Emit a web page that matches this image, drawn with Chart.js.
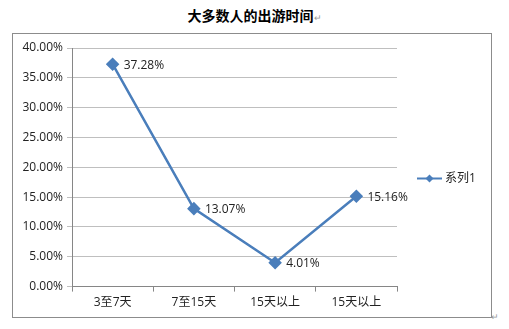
<!DOCTYPE html>
<html>
<head>
<meta charset="utf-8">
<script src="https://cdn.jsdelivr.net/npm/chart.js@4"></script>
<style>
  body { margin: 0; background: #fff; width: 509px; height: 329px; overflow: hidden; position: relative; }
  #title {
    position: absolute; left: 0; top: 5px; width: 509px; text-align: center;
    font: bold 14px "Noto Sans CJK SC", sans-serif; color: #000;
  }
  #title span { font-weight: normal; font-size: 9px; color: #999; }
  #box {
    position: absolute; left: 12px; top: 33px; width: 478px; height: 283px;
    border: 1px solid #8c8c8c;
  }
  #mark { position: absolute; left: 491px; top: 312px; font-size: 9px; color: #999; }
</style>
</head>
<body>
<div id="title">大多数人的出游时间<span>↵</span></div>
<div id="box"><canvas id="chart"></canvas></div>
<div id="mark">↵</div>
<script>
const categories = ['3至7天', '7至15天', '15天以上', '15天以上'];
const seriesName = '系列1';
const values = [37.28, 13.07, 4.01, 15.16];
const yTicks = [0, 5, 10, 15, 20, 25, 30, 35, 40];

const lineColor = '#4a7ebb';
const fontFamily = '"Open Sans", "Noto Sans CJK SC", sans-serif';

// value labels to the right of each point
const valueLabels = {
  id: 'valueLabels',
  afterDatasetsDraw(chart) {
    const ctx = chart.ctx;
    const meta = chart.getDatasetMeta(0);
    ctx.save();
    ctx.font = '12px ' + fontFamily;
    ctx.fillStyle = '#222';
    ctx.textAlign = 'left';
    ctx.textBaseline = 'middle';
    meta.data.forEach((pt, i) => {
      ctx.fillText(values[i].toFixed(2) + '%', pt.x + 11, pt.y + 1);
    });
    ctx.restore();
  }
};

// legend on the right: line + diamond + series name
const sideLegend = {
  id: 'sideLegend',
  afterDraw(chart) {
    const ctx = chart.ctx;
    const x = chart.chartArea.right + 20;
    const y = chart.height / 2 + 3;
    ctx.save();
    ctx.strokeStyle = lineColor;
    ctx.fillStyle = lineColor;
    ctx.lineWidth = 2;
    ctx.beginPath();
    ctx.moveTo(x, y);
    ctx.lineTo(x + 25, y);
    ctx.stroke();
    ctx.beginPath();
    ctx.moveTo(x + 12.5, y - 4);
    ctx.lineTo(x + 16.5, y);
    ctx.lineTo(x + 12.5, y + 4);
    ctx.lineTo(x + 8.5, y);
    ctx.closePath();
    ctx.fill();
    ctx.font = '12px ' + fontFamily;
    ctx.fillStyle = '#222';
    ctx.textAlign = 'left';
    ctx.textBaseline = 'middle';
    ctx.fillText(chart.data.datasets[0].label, x + 28, y);
    ctx.restore();
  }
};

const ctx = document.getElementById('chart').getContext('2d');
new Chart(ctx, {
  type: 'line',
  data: {
    labels: categories,
    datasets: [{
      label: seriesName,
      data: values,
      borderColor: lineColor,
      backgroundColor: lineColor,
      borderWidth: 2.5,
      tension: 0,
      pointStyle: 'rectRot',
      pointRadius: 5,
      pointHoverRadius: 5
    }]
  },
  options: {
    responsive: true,
    maintainAspectRatio: false,
    animation: false,
    layout: {
      padding: { top: 14, bottom: 3, left: 8, right: 94 }
    },
    scales: {
      x: {
        offset: true,
        grid: { offset: true, drawOnChartArea: false, drawTicks: true, tickLength: 5, color: '#868686' },
        border: { color: '#868686' },
        ticks: { color: '#222', font: { family: fontFamily, size: 12 }, padding: 4, maxRotation: 0 }
      },
      y: {
        min: 0,
        max: 40,
        afterBuildTicks: axis => { axis.ticks = yTicks.map(v => ({ value: v })); },
        grid: { color: '#bfbfbf', tickLength: 5 },
        border: { color: '#868686' },
        ticks: {
          color: '#222',
          font: { family: fontFamily, size: 12 },
          padding: 4,
          callback: v => v.toFixed(2) + '%'
        },
        afterFit: axis => { axis.width = 51; }
      }
    },
    plugins: {
      legend: { display: false },
      tooltip: { enabled: false }
    }
  },
  plugins: [valueLabels, sideLegend]
});
</script>
</body>
</html>
